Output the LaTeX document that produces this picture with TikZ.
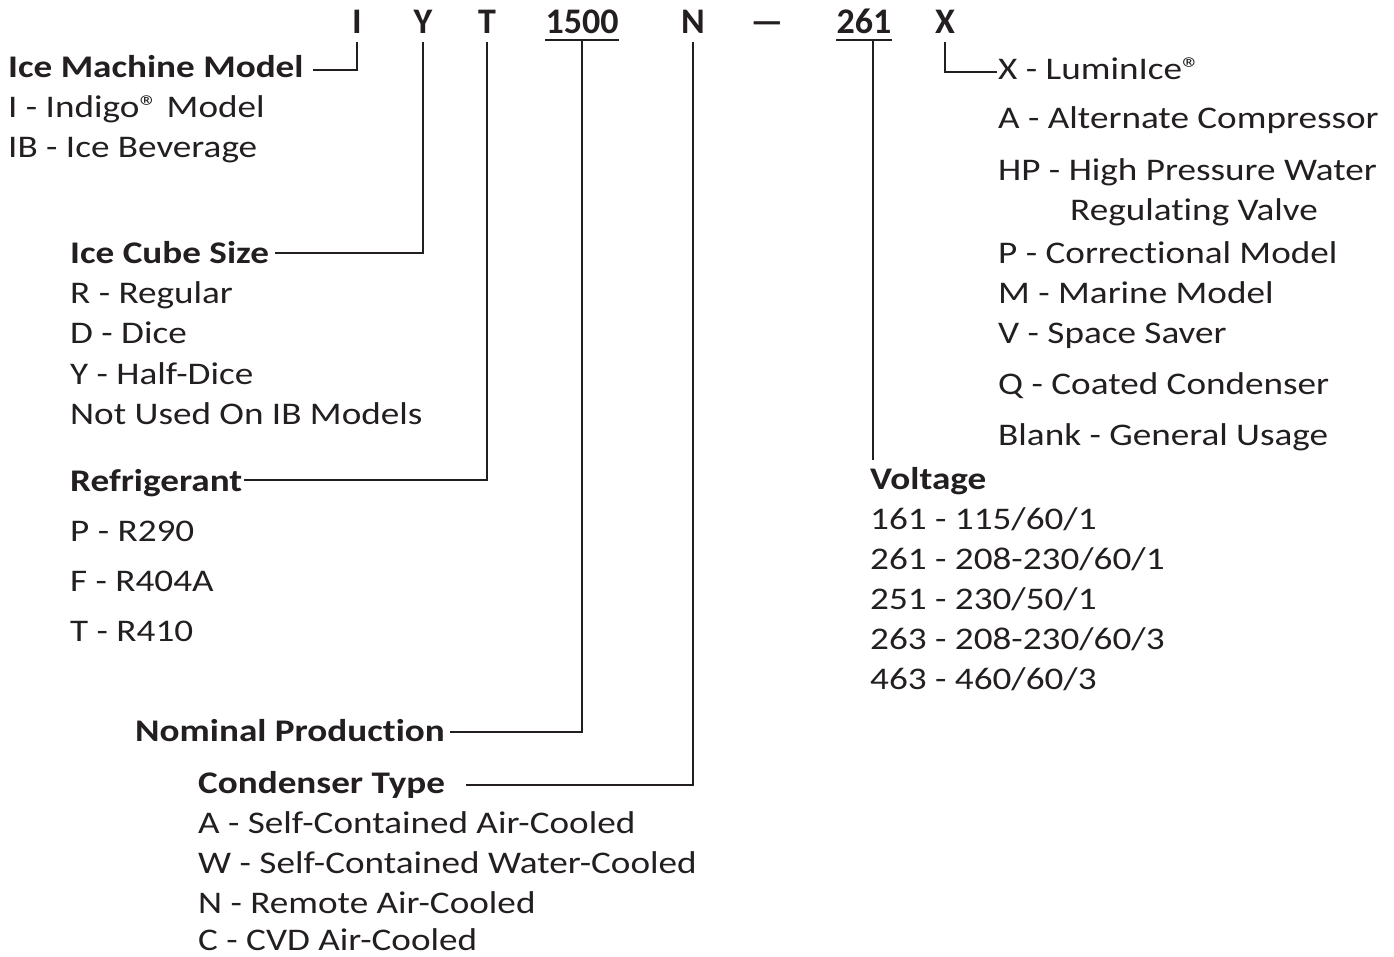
\documentclass[tikz,border=0pt]{standalone}
\usepackage{fontspec}
\setmainfont[FakeStretch=1.18,Ligatures=NoCommon]{Carlito}
\newfontfamily\codefont{Carlito}
\usetikzlibrary{calc}
\definecolor{ink}{HTML}{231F20}
\newcommand{\reg}{®}
\begin{document}
\begin{tikzpicture}[x=1pt,y=-1pt,
  txt/.style={anchor=base west,inner sep=0pt,text=ink,font=\fontsize{31.5}{36}\selectfont},
  hd/.style={txt,font=\fontsize{31.5}{36}\selectfont\bfseries},
  code/.style={anchor=base,inner sep=0pt,text=ink,font=\codefont\fontsize{36}{40}\selectfont\bfseries},
  conn/.style={draw=ink,line width=1.3pt}]
\useasboundingbox (0,0) rectangle (1394,957);
% code letters
\node[code] (tI) at (357,34) {I};
\node[code] (tY) at (423,34) {Y};
\node[code] (tT) at (487,34) {T};
\node[code] (t1500) at (582,34) {1500};
\node[code] (tN) at (693,34) {N};
\node[code] (tdash) at (767,34) {—};
\node[code] (t261) at (864,34) {261};
\node[code] (tX) at (945,34) {X};
\draw[conn] ($(t1500.base west)+(0,6)$) -- ($(t1500.base east)+(0,6)$);
\draw[conn] ($(t261.base west)+(0,6)$) -- ($(t261.base east)+(0,6)$);
% left column
\node[hd] (imm) at (8,78) {Ice Machine Model};
\node[txt] (imm1) at (8,118) {I - Indigo\reg\ Model};
\node[txt] (imm2) at (8,158) {IB - Ice Beverage};
\node[hd] (ics) at (70,264) {Ice Cube Size};
\node[txt] (ics1) at (70,304) {R - Regular};
\node[txt] (ics2) at (70,344) {D - Dice};
\node[txt] (ics3) at (70,384) {Y - Half-Dice};
\node[txt] (ics4) at (70,424) {Not Used On IB Models};
\node[hd] (ref) at (70,491) {Refrigerant};
\node[txt] (ref1) at (70,541) {P - R290};
\node[txt] (ref2) at (70,591) {F - R404A};
\node[txt] (ref3) at (70,641) {T - R410};
\node[hd] (nom) at (135,741) {Nominal Production};
\node[hd] (con) at (198,793) {Condenser Type};
\node[txt] (con1) at (198,833) {A - Self-Contained Air-Cooled};
\node[txt] (con2) at (198,873) {W - Self-Contained Water-Cooled};
\node[txt] (con3) at (198,913) {N - Remote Air-Cooled};
\node[txt] (con4) at (198,950) {C - CVD Air-Cooled};
% right column
\node[txt] (x1) at (998,80) {X - LuminIce\reg};
\node[txt] (x2) at (998,129) {A - Alternate Compressor};
\node[txt] (x3) at (998,181) {HP - High Pressure Water};
\node[txt] (x3b) at (1070,221) {Regulating Valve};
\node[txt] (x4) at (998,264) {P - Correctional Model};
\node[txt] (x5) at (998,304) {M - Marine Model};
\node[txt] (x6) at (998,344) {V - Space Saver};
\node[txt] (x7) at (998,394) {Q - Coated Condenser};
\node[txt] (x8) at (998,445) {Blank - General Usage};
\node[hd] (vol) at (870,489) {Voltage};
\node[txt] (v1) at (870,529) {161 - 115/60/1};
\node[txt] (v2) at (870,569) {261 - 208-230/60/1};
\node[txt] (v3) at (870,609) {251 - 230/50/1};
\node[txt] (v4) at (870,649) {263 - 208-230/60/3};
\node[txt] (v5) at (870,689) {463 - 460/60/3};
% connector ends
\coordinate (eI) at (313,70);
\coordinate (eY) at (275,253);
\coordinate (eT) at (244,480);
\coordinate (e1500) at (450,732);
\coordinate (eN) at (466,785);
\coordinate (e261) at (873,460);
\coordinate (eX) at (997,72);
\draw[conn] (tI.base) ++(0,8) |- (eI);
\draw[conn] (tY.base) ++(0,8) |- (eY);
\draw[conn] (tT.base) ++(0,8) |- (eT);
\draw[conn] (t1500.base) ++(0,6) |- (e1500);
\draw[conn] (tN.base) ++(0,8) |- (eN);
\draw[conn] ($(t261.base)+(9,6)$) -- (e261);
\draw[conn] (tX.base) ++(0,8) |- (eX);
\end{tikzpicture}
\end{document}
